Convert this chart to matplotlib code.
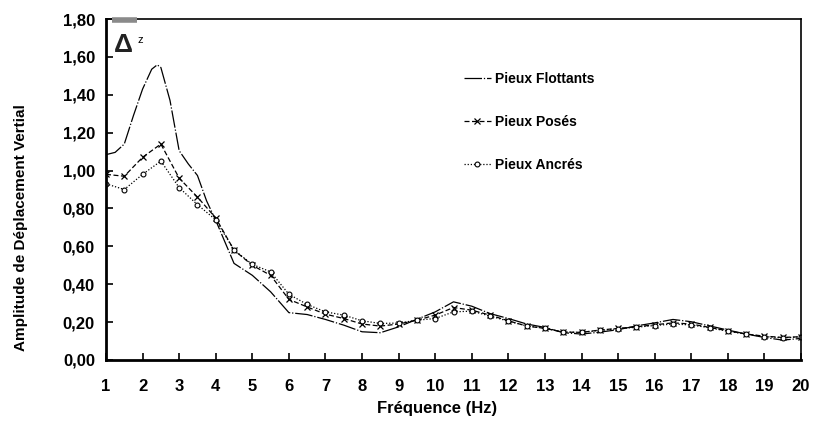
import numpy as np
import matplotlib
matplotlib.use("Agg")
import matplotlib.pyplot as plt
from matplotlib.ticker import FuncFormatter

# frequences (Hz), pas de 0.5
freq = np.arange(1, 20.01, 0.5)
# la courbe des pieux flottants est lue plus finement autour du pic
freq_flot = [1.0, 1.25, 1.5, 1.75, 2.0, 2.25, 2.4, 2.5, 2.75, 3.0, 3.25, 3.5, 3.75,
             4.0, 4.5, 5.0, 5.5, 6.0, 6.5, 7.0, 7.5, 8.0, 8.5, 9.0, 9.5, 10.0,
             10.5, 11.0, 11.5, 12.0, 12.5, 13.0, 13.5, 14.0, 14.5, 15.0, 15.5,
             16.0, 16.5, 17.0, 17.5, 18.0, 18.5, 19.0, 19.5, 20.0]

flottants = [1.084, 1.096, 1.14, 1.29, 1.43, 1.535, 1.558, 1.544, 1.37, 1.105,
             1.035, 0.974, 0.84, 0.737, 0.51, 0.447, 0.36, 0.25, 0.24, 0.214,
             0.184, 0.149, 0.144, 0.175, 0.215, 0.254, 0.307, 0.284, 0.245,
             0.219, 0.19, 0.172, 0.144, 0.137, 0.147, 0.16, 0.18, 0.196, 0.214,
             0.202, 0.18, 0.158, 0.137, 0.119, 0.105, 0.114]

poses = [0.98, 0.97, 1.07, 1.14, 0.96, 0.86, 0.75, 0.58, 0.50, 0.447,
         0.32, 0.28, 0.242, 0.219, 0.19, 0.179, 0.19, 0.21, 0.237, 0.277,
         0.263, 0.237, 0.207, 0.179, 0.167, 0.147, 0.146, 0.158, 0.167, 0.175,
         0.186, 0.196, 0.19, 0.172, 0.154, 0.137, 0.126, 0.119, 0.123]

ancres = [0.93, 0.90, 0.98, 1.05, 0.91, 0.82, 0.74, 0.58, 0.505, 0.465,
          0.347, 0.293, 0.254, 0.237, 0.207, 0.193, 0.195, 0.21, 0.219, 0.254,
          0.258, 0.232, 0.205, 0.18, 0.167, 0.148, 0.146, 0.156, 0.165, 0.173,
          0.182, 0.19, 0.185, 0.17, 0.152, 0.136, 0.124, 0.117, 0.122]

labels = ["Pieux Flottants", "Pieux Posés", "Pieux Ancrés"]
xticks = list(range(1, 21))
yticks = np.arange(0, 1.81, 0.2)

plt.rcParams['font.family'] = ['Liberation Sans', 'DejaVu Sans']

fig = plt.figure(figsize=(8.13, 4.24), dpi=100)
ax = fig.add_axes([106/813, 1 - 360/424, (801 - 106)/813, (360 - 19)/424])

ax.plot(freq_flot, flottants, color='black', lw=0.9, dashes=(14, 1.5, 1, 1.5),
        label=labels[0])
ax.plot(freq, poses, color='black', lw=0.9, ls=(0, (4, 2)), marker='x',
        ms=4, mew=0.9, label=labels[1])
ax.plot(freq, ancres, color='black', lw=0.9, ls=(0, (1, 1.5)), marker='o',
        ms=3.5, mfc='white', mew=0.8, label=labels[2])

ax.set_xlim(1, 20)
ax.set_ylim(0, 1.8)
ax.set_xticks(xticks)
ax.set_yticks(yticks)
ax.yaxis.set_major_formatter(FuncFormatter(lambda v, p: f"{v:.2f}".replace('.', ',')))
ax.tick_params(direction='in', length=5, width=1.2, pad=14, labelsize=12)
ax.tick_params(axis='y', pad=8)
for t in ax.get_xticklabels() + ax.get_yticklabels():
    t.set_fontweight('bold')
for side in ['top', 'right']:
    ax.spines[side].set_linewidth(1.2)
for side in ['left', 'bottom']:
    ax.spines[side].set_linewidth(2)

fig.text(437/813, 1 - 408/424, "Fréquence (Hz)", ha='center', va='center',
         fontsize=12, fontweight='bold')
fig.text(21/813, 1 - 228/424, "Amplitude de Déplacement Vertial", rotation=90,
         ha='center', va='center', fontsize=11, fontweight='bold')

# symbole delta z en haut a gauche
ax.plot([1.17, 1.85], [1.795, 1.795], color='#8a8a8a', lw=4, clip_on=False,
        solid_capstyle='butt', zorder=5)
ax.text(1.22, 1.665, "Δ", fontsize=19, fontweight='bold', va='center',
        color='#222222')
ax.text(1.85, 1.69, "z", fontsize=8, va='center')

leg = ax.legend(loc='upper left', bbox_to_anchor=(345/695, 1 - 40/341),
                frameon=False, handlelength=2, handletextpad=0.3,
                labelspacing=2.1, prop={'weight': 'bold', 'size': 10})

fig.savefig("out.png", dpi=100)
